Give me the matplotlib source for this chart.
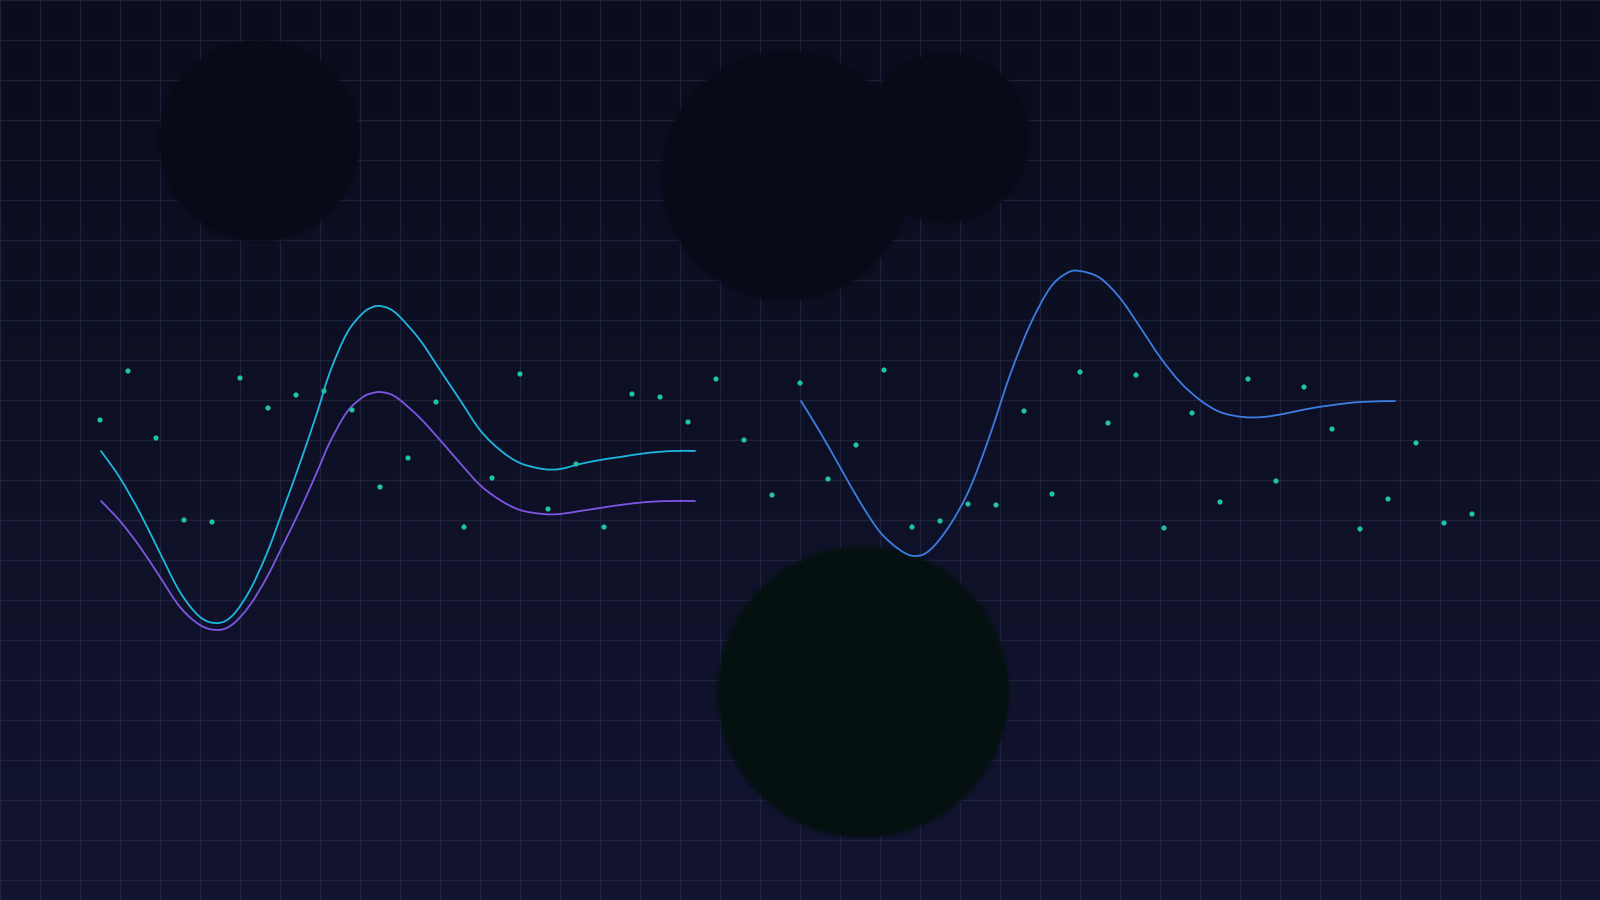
import numpy as np
import matplotlib
matplotlib.use('Agg')
import matplotlib.pyplot as plt
from matplotlib.patches import Circle, PathPatch
from matplotlib.path import Path
from matplotlib.colors import LinearSegmentedColormap

# canvas units: 1600 x 900, grid every 40
W, H = 1600, 900
GRID = 40

# dark blobs (centre x, centre y, radius, colour)
blob_x = [259, 786, 945, 863]
blob_y = [141, 176, 138, 692]
blob_r = [99, 123, 83, 144]
blob_c = ['#070b18', '#070b18', '#070b18', '#041110']

# wave curves
cyan_x = [101, 120, 140, 160, 180, 200, 218, 233, 250, 267, 283, 300, 317, 330, 347, 363, 373, 380,
          390, 400, 420, 440, 460, 480, 500, 520, 543, 560, 580, 600, 620, 647, 673, 695]
cyan_y = [451, 478, 513, 553, 592, 617, 623, 615, 590, 553, 510, 463, 413, 372, 333, 313, 307, 306,
          309, 317, 340, 370, 400, 430, 450, 463, 469, 469, 464, 460, 457, 453, 451, 451]

purple_x = cyan_x
purple_y = [501, 521, 547, 577, 607, 625, 630, 624, 605, 577, 545, 510, 472, 442, 412, 397, 393, 392,
            394, 400, 418, 440, 463, 485, 500, 510, 514, 514, 511, 508, 505, 502, 501, 501]

blue_x = [801, 820, 840, 860, 880, 900, 915, 930, 950, 970, 990, 1010, 1030, 1050, 1067, 1080,
          1100, 1120, 1140, 1160, 1180, 1200, 1220, 1243, 1263, 1283, 1307, 1333, 1360, 1395]
blue_y = [401, 432, 467, 502, 532, 550, 556, 550, 525, 488, 435, 375, 325, 288, 273, 271,
          278, 298, 327, 357, 382, 400, 412, 417, 417, 414, 409, 405, 402, 401]

# scattered dots
dot_x = np.arange(100, 1473, 28)
dot_y = [420, 371, 438, 520, 522, 378, 408, 395, 391, 410,
         487, 458, 402, 527, 478, 374, 509, 464, 527, 394,
         397, 422, 379, 440, 495, 383, 479, 445, 370, 527,
         521, 504, 505, 411, 494, 372, 423, 375, 528, 413,
         502, 379, 481, 387, 429, 529, 499, 443, 523, 514]


def smooth_path(xs, ys):
    # catmull-rom through the points, written as cubic beziers
    p = np.column_stack([xs, ys]).astype(float)
    ext = np.vstack([p[0], p, p[-1]])
    verts = [p[0]]
    codes = [Path.MOVETO]
    for i in range(1, len(ext) - 2):
        c1 = ext[i] + (ext[i + 1] - ext[i - 1]) / 6
        c2 = ext[i + 1] - (ext[i + 2] - ext[i]) / 6
        verts += [c1, c2, ext[i + 1]]
        codes += [Path.CURVE4] * 3
    return Path(verts, codes)


fig = plt.figure(figsize=(16, 9), dpi=100)
ax = fig.add_axes([0, 0, 1, 1])
ax.set_xlim(0, W)
ax.set_ylim(H, 0)

# background gradient
bg = LinearSegmentedColormap.from_list('bg', ['#0a0d1c', '#121430'])
grad = np.linspace(0, 1, 256).reshape(-1, 1)
ax.imshow(grad, cmap=bg, extent=[0, W, H, 0], aspect='auto', zorder=0)

# grid
ax.set_xticks(np.arange(0, W + 1, GRID))
ax.set_yticks(np.arange(0, H + 1, GRID))
ax.set_axisbelow(True)
ax.grid(True, color='#2a2f4c', linewidth=1.0, alpha=0.6)
ax.tick_params(length=0, labelbottom=False, labelleft=False)
for s in ax.spines.values():
    s.set_visible(False)

# blobs with soft edges
for cx, cy, r, c in zip(blob_x, blob_y, blob_r, blob_c):
    for dr, a in [(4, 0.25), (2, 0.5), (0, 1.0)]:
        ax.add_patch(Circle((cx, cy), r + dr, facecolor=c, edgecolor='none', alpha=a, zorder=1))

for xs, ys, col in [(cyan_x, cyan_y, '#1fb6e0'), (purple_x, purple_y, '#7f55e4'),
                    (blue_x, blue_y, '#3b7de2')]:
    ax.add_patch(PathPatch(smooth_path(xs, ys), facecolor='none', edgecolor=col, lw=1.3,
                           capstyle='round', zorder=3))

ax.scatter(dot_x, dot_y, s=14, color='#1fc4a4', edgecolors='none', zorder=4)

fig.savefig('out.png', dpi=100)
